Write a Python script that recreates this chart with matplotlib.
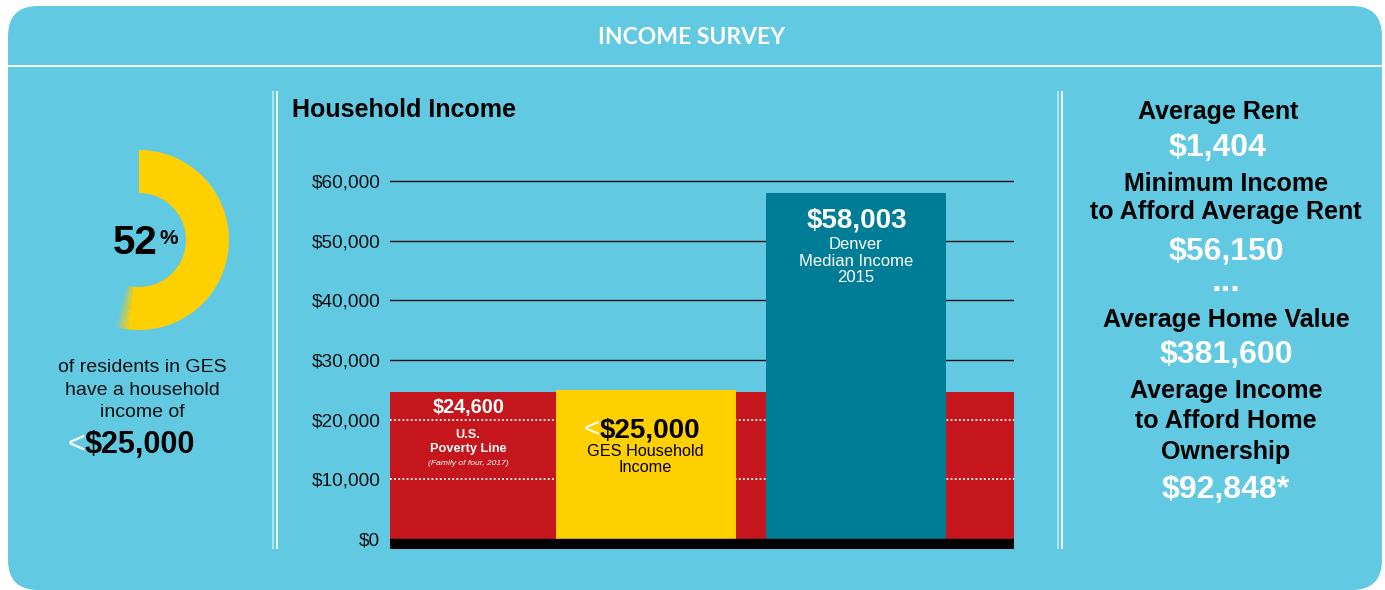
import numpy as np
import matplotlib
matplotlib.use('Agg')
from matplotlib import pyplot as plt
from matplotlib.patches import FancyBboxPatch, Wedge

plt.rcParams['font.family'] = ['Liberation Sans', 'DejaVu Sans']

# data
categories = ['U.S. Poverty Line', 'GES Household Income', 'Denver Median Income 2015']
incomes = [24600, 25000, 58003]
tick_values = [0, 10000, 20000, 30000, 40000, 50000, 60000]
tick_labels = ['$0', '$10,000', '$20,000', '$30,000', '$40,000', '$50,000', '$60,000']
share_low_income = [52, 48]   # % of residents under $25,000
stat_labels = ['Average Rent', 'Minimum Income\nto Afford Average Rent',
               'Average Home Value', 'Average Income\nto Afford Home\nOwnership']
stat_values = ['$1,404', '$56,150', '$381,600', '$92,848*']

blue = '#62C9E2'
red = '#C4161C'
yellow = '#FFD000'
teal = '#007D96'

W, H = 1385, 590
fig = plt.figure(figsize=(W / 100, H / 100), dpi=100)
fig.patch.set_facecolor('white')

# background layer in pixel coords (y down)
bg = fig.add_axes([0, 0, 1, 1])
bg.set_xlim(0, W)
bg.set_ylim(H, 0)
bg.axis('off')
bg.add_patch(FancyBboxPatch((8, 6), 1374, 584, boxstyle='round,pad=0,rounding_size=30',
                            facecolor=blue, edgecolor='none'))
bg.plot([8, 1382], [66, 66], color='white', lw=1.4)
for x0 in (273, 1058):
    bg.plot([x0, x0], [92, 548], color='white', alpha=0.55, lw=1.3)
    bg.plot([x0 + 4, x0 + 4], [92, 548], color='white', lw=1.3)

# ---- left: donut
dax = fig.add_axes([49 / W, (H - 330) / H, 180 / W, 180 / H])
dax.pie(share_low_income, colors=[yellow, 'none'], startangle=90, counterclock=False,
        wedgeprops=dict(width=0.478, linewidth=0))
end_ang = 90 - 360 * share_low_income[0] / 100
steps = 10
for i in range(steps):
    dax.add_patch(Wedge((0, 0), 1, end_ang - (i + 1) * 0.8, end_ang - i * 0.8, width=0.478,
                        facecolor=yellow, edgecolor='none', alpha=0.9 * (1 - i / steps)))
dax.set_xlim(-1, 1)
dax.set_ylim(-1, 1)
dax.axis('off')

# ---- middle: bar chart
k = 358 / 60000.0   # px per dollar
ylo = -(549 - 539) / k
yhi = (539 - 170) / k
ax = fig.add_axes([390 / W, (H - 549) / H, 624 / W, (549 - 170) / H])
ax.set_xlim(390, 1014)
ax.set_ylim(ylo, yhi)
ax.patch.set_alpha(0)
for s in ax.spines.values():
    s.set_visible(False)
ax.set_xticks([])
ax.set_yticks(tick_values)
ax.set_yticklabels(tick_labels, fontsize=13.7, color='#111')
ax.tick_params(axis='y', length=0, pad=7)
ax.set_axisbelow(True)
ax.yaxis.grid(True, color='#111', lw=1)

ax.axhspan(ylo, 0, color='black', zorder=4)
ax.bar(702, incomes[0], width=624, color=red, zorder=2)
ax.hlines([10000, 20000], 390, 1014, colors='white', linestyles=(0, (1, 1.3)), lw=1.3, zorder=2.5)
ax.bar(646, incomes[1], width=180, color=yellow, zorder=3)
ax.bar(856, incomes[2], width=180, color=teal, zorder=3)

# text layer on top of everything, pixel coords
tx = fig.add_axes([0, 0, 1, 1])
tx.set_xlim(0, W)
tx.set_ylim(H, 0)
tx.axis('off')
tx.patch.set_alpha(0)

tx.text(692, 44, 'INCOME SURVEY', color='white', fontsize=16.5, fontweight='bold',
        family=['Lato', 'DejaVu Sans'], ha='center', va='baseline')

tx.text(158, 254, f'{share_low_income[0]}', fontsize=29, fontweight='bold', ha='right', va='baseline')
tx.text(159, 244, '%', fontsize=15, fontweight='bold', ha='left', va='baseline')
tx.text(142, 372, 'of residents in GES', fontsize=14, ha='center', va='baseline', color='#111')
tx.text(142, 395, 'have a household', fontsize=14, ha='center', va='baseline', color='#111')
tx.text(142, 417, 'income of', fontsize=14, ha='center', va='baseline', color='#111')
tx.text(85, 453, '<', fontsize=22, color='white', ha='right', va='baseline')
tx.text(85, 453, f'${incomes[1]:,}', fontsize=22, fontweight='bold', ha='left', va='baseline')

tx.text(292, 117, 'Household Income', fontsize=18, fontweight='bold', ha='left', va='baseline')

# bar annotations
tx.text(469, 413, f'${incomes[0]:,}', fontsize=14.3, fontweight='bold', color='white', ha='center', va='baseline')
tx.text(468, 438, 'U.S.', fontsize=9.2, fontweight='bold', color='white', ha='center', va='baseline')
tx.text(468, 452, 'Poverty Line', fontsize=9.2, fontweight='bold', color='white', ha='center', va='baseline')
tx.text(468, 465, '(Family of four, 2017)', fontsize=6.1, style='italic', color='white', ha='center', va='baseline')

tx.text(600, 437, '<', fontsize=20, color='white', ha='right', va='baseline')
tx.text(600, 437, f'${incomes[1]:,}', fontsize=20, fontweight='bold', ha='left', va='baseline')
tx.text(645, 456, 'GES Household', fontsize=11.7, ha='center', va='baseline')
tx.text(645, 472, 'Income', fontsize=11.7, ha='center', va='baseline')

tx.text(857, 228, f'${incomes[2]:,}', fontsize=20, fontweight='bold', color='white', ha='center', va='baseline')
for yy, line in zip([249, 266, 282], ['Denver', 'Median Income', '2015']):
    tx.text(856, yy, line, fontsize=12, color='white', ha='center', va='baseline')

# ---- right: stats
label_base = [[119], [191, 219], [327], [398, 428, 459]]
value_base = [156, 260, 363, 498]
xs = [1218, 1226, 1226, 1226]
for lab, val, lb, vb, xc in zip(stat_labels, stat_values, label_base, value_base, xs):
    for line, yy in zip(lab.split('\n'), lb):
        tx.text(xc, yy, line, fontsize=18, fontweight='bold', ha='center', va='baseline')
    tx.text(xc, vb, val, fontsize=23, fontweight='bold', color='white', ha='center', va='baseline')
tx.text(1226, 291, '...', fontsize=25, fontweight='bold', color='white', ha='center', va='baseline')

fig.savefig('out.png', dpi=100)
plt.close()
